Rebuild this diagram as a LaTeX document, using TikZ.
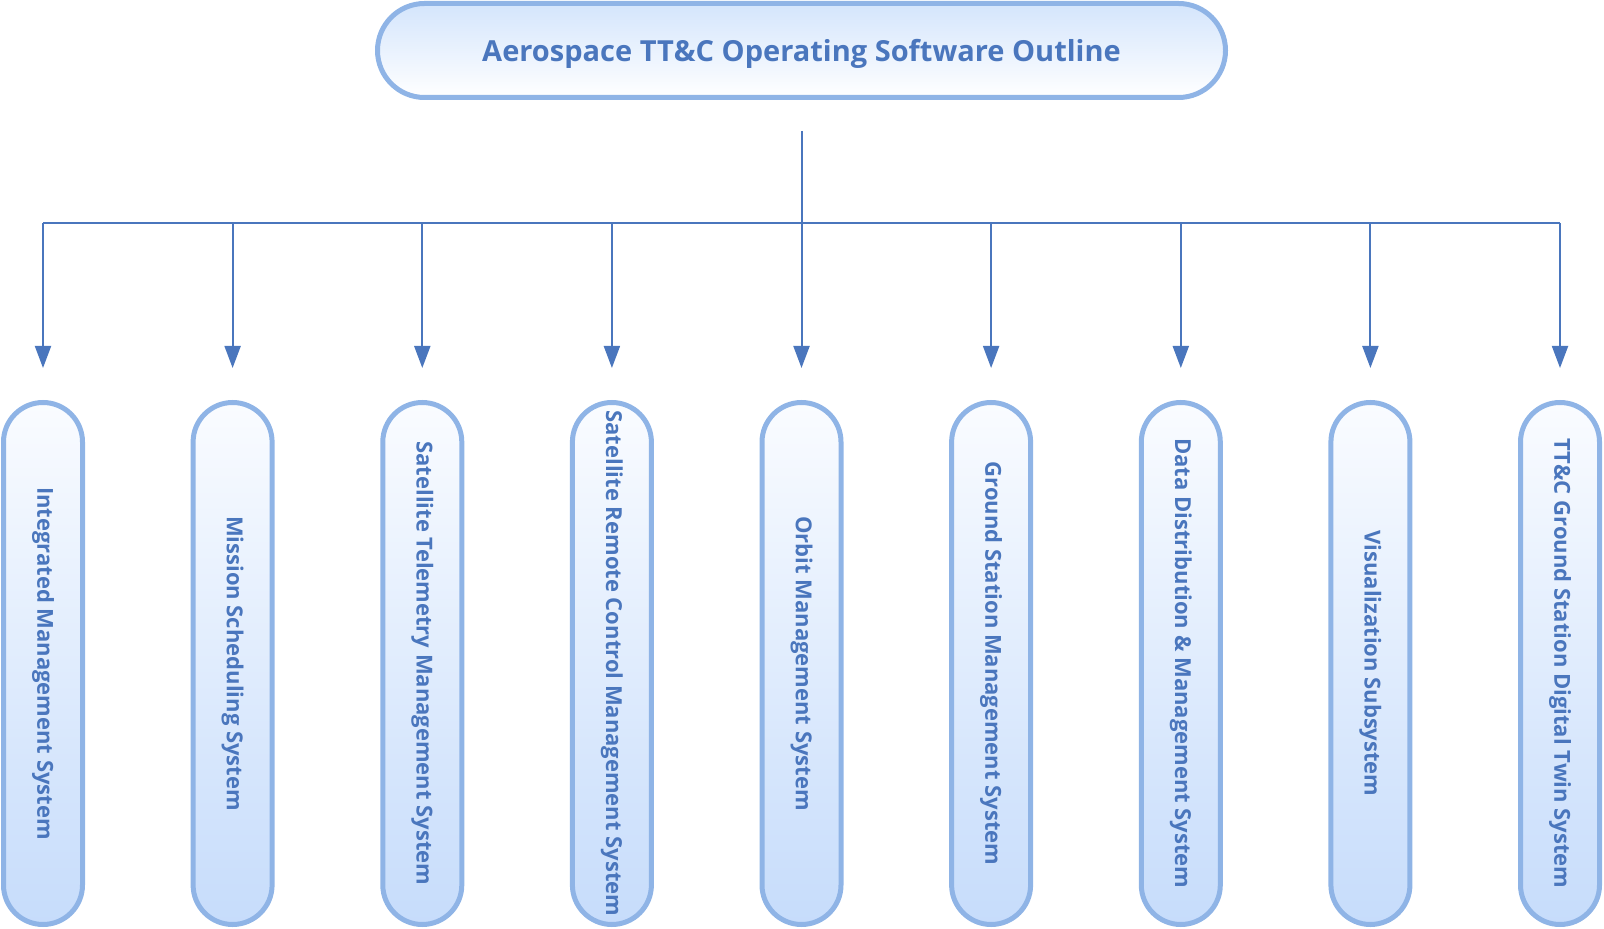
\documentclass[tikz,border=0pt]{standalone}
\usepackage{fontspec}
\setmainfont{Open Sans}
\usepackage{tikz}
\usetikzlibrary{arrows.meta}
\definecolor{rim}{HTML}{8FB4E6}
\definecolor{ink}{HTML}{4A76BD}
\definecolor{paleblue}{HTML}{C6DCFB}
\definecolor{toptint}{HTML}{D4E5FC}
\definecolor{nearwhite}{HTML}{FAFCFF}
\tikzset{
    every node/.style={text=ink, font=\bfseries}
}
\tikzset{
    head/.style={draw=rim, line width=2.5pt, rounded corners=23.5pt,
    	minimum width=424pt, minimum height=47pt, text depth=0pt,
    	top color=toptint, bottom color=white,
    	font=\fontsize{14.5pt}{16pt}\selectfont\bfseries},
    box/.style={draw=rim, line width=2.5pt, rounded corners=19.75pt,
    	rotate=-90, minimum width=261pt, minimum height=39.5pt, inner xsep=0pt,
    	top color=nearwhite, bottom color=paleblue,
    	font=\fontsize{11pt}{13pt}\selectfont\bfseries},
    link/.style={draw=ink, line width=1pt},
    arrow/.style={link, -{Triangle[length=11pt,width=8pt]}, shorten >=16pt}
}

\begin{document}
\begin{tikzpicture}[x=0.5pt, y=-0.5pt]
	\useasboundingbox (0,0) rectangle (1604,929);
	\node (0) [head] at (801.5, 50.5) {Aerospace TT\&C Operating Software Outline};
	
	\node (1) [box] at (  43.0, 663.5) {Integrated Management System};
	\node (2) [box] at ( 232.6, 663.5) {Mission Scheduling System};
	\node (3) [box] at ( 422.3, 663.5) {Satellite Telemetry Management System};
	\node (4) [box] at ( 611.9, 663.5) {Satellite Remote Control Management System};
	\node (5) [box] at ( 801.5, 663.5) {Orbit Management System};
	\node (6) [box] at ( 991.1, 663.5) {Ground Station Management System};
	\node (7) [box] at (1180.8, 663.5) {Data Distribution \& Management System};
	\node (8) [box] at (1370.4, 663.5) {Visualization Subsystem};
	\node (9) [box] at (1560.0, 663.5) {TT\&C Ground Station Digital Twin System};
	
	\coordinate (b1) at (  43.0, 223); \coordinate (b2) at ( 232.6, 223);
	\coordinate (b3) at ( 422.3, 223); \coordinate (b4) at ( 611.9, 223);
	\coordinate (b5) at ( 801.5, 223); \coordinate (b6) at ( 991.1, 223);
	\coordinate (b7) at (1180.8, 223); \coordinate (b8) at (1370.4, 223);
	\coordinate (b9) at (1560.0, 223);
	
	\draw [link, shorten <=15.5pt] (0) -- (b5);
	\draw [link] (b1) -- (b9);
	\draw [arrow] (b1) -- (1); \draw [arrow] (b2) -- (2);
	\draw [arrow] (b3) -- (3); \draw [arrow] (b4) -- (4);
	\draw [arrow] (b5) -- (5); \draw [arrow] (b6) -- (6);
	\draw [arrow] (b7) -- (7); \draw [arrow] (b8) -- (8);
	\draw [arrow] (b9) -- (9);
\end{tikzpicture}
\end{document}
